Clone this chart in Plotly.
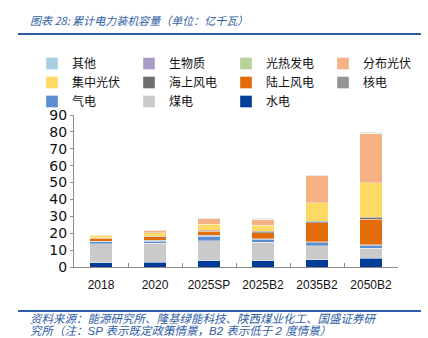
import plotly.graph_objects as go

categories = ["2018", "2020", "2025SP", "2025B2", "2035B2", "2050B2"]

# stacking order bottom -> top
series_names = ["水电", "煤电", "气电", "核电", "陆上风电", "海上风电",
                "集中光伏", "分布光伏", "光热发电", "生物质", "其他"]
hydro      = [2.4, 2.9, 3.7, 3.7, 4.3, 5.1]
coal       = [11.4, 11.3, 11.8, 11.0, 8.3, 5.9]
gas        = [1.1, 1.1, 2.6, 1.6, 1.9, 1.8]
nuclear    = [0.4, 0.5, 0.6, 0.5, 0.6, 0.5]
onshore    = [1.8, 2.2, 2.6, 3.6, 11.2, 15.1]
offshore   = [0.1, 0.3, 0.6, 0.8, 0.8, 1.0]
pv_central = [1.5, 1.9, 3.3, 3.5, 11.0, 20.4]
pv_distrib = [0.6, 1.2, 3.3, 3.5, 15.9, 29.3]
csp        = [0.0, 0.0, 0.1, 0.1, 0.1, 0.1]
biomass    = [0.2, 0.3, 0.2, 0.2, 0.2, 0.2]
other      = [0.2, 0.3, 0.3, 0.3, 0.3, 0.4]
series_values = [hydro, coal, gas, nuclear, onshore, offshore,
                 pv_central, pv_distrib, csp, biomass, other]
colors = ["#003D99", "#CBCBCB", "#5B8DD1", "#949494", "#E26B0A", "#6E6E6E",
          "#FFD966", "#F4B183", "#B5D39A", "#A99BC7", "#A7CFDF"]

title_text = "图表 28: 累计电力装机容量（单位：亿千瓦）"
source_line1 = "资料来源：能源研究所、隆基绿能科技、陕西煤业化工、国盛证券研"
source_line2 = "究所（注：SP 表示既定政策情景，B2 表示低于 2 度情景）"

W, H = 428, 338
L, R, T, B = 74, 30, 115, 71
pw, ph = W - L - R, H - T - B

def px_x(x):
    return (x - L) / pw

def px_y(y):
    return (H - B - y) / ph

fig = go.Figure()
for name, vals, col in zip(series_names, series_values, colors):
    fig.add_trace(go.Bar(
        x=categories, y=vals, name=name,
        marker=dict(color=col, line=dict(color="rgba(255,255,255,0.6)", width=0.6)),
    ))

cjk = "Noto Sans CJK SC"
src_font = "Liberation Sans, Noto Sans CJK SC"
blue = "#2E5DA6"

fig.update_layout(
    width=W, height=H,
    margin=dict(l=L, r=R, t=T, b=B),
    barmode="stack", bargap=0.585,
    plot_bgcolor="white", paper_bgcolor="white",
    showlegend=True,
    legend=dict(
        orientation="h", traceorder="reversed",
        x=px_x(32), y=px_y(49), xanchor="left", yanchor="top",
        entrywidth=52, entrywidthmode="pixels",
        font=dict(family=cjk, size=12, color="#111"),
        itemwidth=30, tracegroupgap=0, bgcolor="rgba(0,0,0,0)",
    ),
    xaxis=dict(
        type="category", showline=True, linecolor="#8C8C8C", linewidth=1,
        ticks="inside", tickson="boundaries", ticklen=4, tickcolor="#8C8C8C",
        tickangle=0, ticklabelstandoff=7,
        tickfont=dict(family="Liberation Sans, Arial", size=12, color="#111"),
        showgrid=False,
    ),
    yaxis=dict(
        range=[0, 90], dtick=10, showline=True, linecolor="#8C8C8C", linewidth=1,
        ticks="outside", ticklen=3, tickcolor="#8C8C8C",
        tickfont=dict(family="DejaVu Sans", size=14, color="#111"),
        showgrid=False, zeroline=False,
    ),
)

fig.add_annotation(text=title_text, x=px_x(28), y=px_y(20), xref="paper", yref="paper",
                   xanchor="left", yanchor="middle", showarrow=False,
                   font=dict(family=cjk, size=11, color=blue, style="italic"))
for txt, yy in ((source_line1, 319), (source_line2, 331)):
    fig.add_annotation(text=txt, x=px_x(29), y=px_y(yy), xref="paper", yref="paper",
                       xanchor="left", yanchor="middle", showarrow=False, align="left",
                       borderpad=0,
                       font=dict(family=src_font, size=11.5, color=blue, style="italic"))

for yy in (34, 311):
    fig.add_shape(type="line", xref="paper", yref="paper",
                  x0=px_x(18), x1=px_x(421), y0=px_y(yy), y1=px_y(yy),
                  line=dict(color=blue, width=2))

fig.write_html("out.html")
